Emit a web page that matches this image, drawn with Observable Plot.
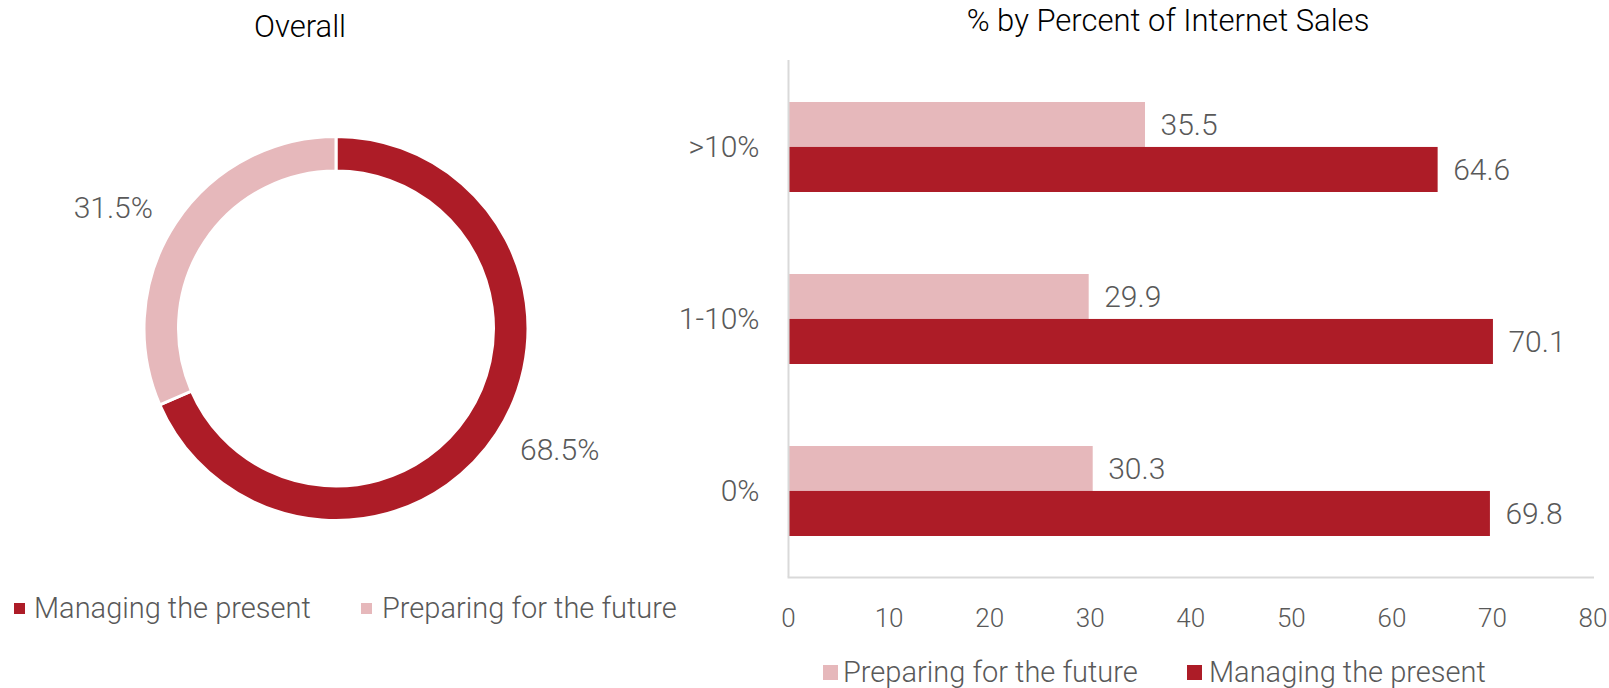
<!DOCTYPE html>
<html><head><meta charset="utf-8">
<script src="https://cdn.jsdelivr.net/npm/d3@7"></script>
<script src="https://cdn.jsdelivr.net/npm/@observablehq/plot@0.6"></script>
<style>
html,body{margin:0;padding:0;background:#fff;}
body{width:1609px;height:688px;position:relative;overflow:hidden;font-family:Roboto,"Liberation Sans",sans-serif;font-weight:300;}
.title{position:absolute;font-size:31px;line-height:31px;color:#000;white-space:nowrap;transform:translateX(-50%);}
.item{position:absolute;display:flex;align-items:center;font-size:29px;line-height:29px;color:#595959;white-space:nowrap;}
.sw{display:inline-block;}
.panel{position:absolute;}
</style></head><body>
<div class="title" style="left:300px;top:11px;">Overall</div>
<div class="title" style="left:1168px;top:5px;">% by Percent of Internet Sales</div>
<div id="left" class="panel" style="left:0;top:50px;"></div>
<div id="right" class="panel" style="left:620px;top:50px;"></div>
<script>
// ---- data ----
const seriesNames = ["Managing the present", "Preparing for the future"];
const seriesColors = ["#ad1c27", "#e6b8bb"];
const overallValues = [68.5, 31.5];
const categories = [">10%", "1-10%", "0%"];
const preparing = [35.5, 29.9, 30.3];
const managing = [64.6, 70.1, 69.8];
const xTicks = [0, 10, 20, 30, 40, 50, 60, 70, 80];

const colorScale = Plot.scale({color: {type: "ordinal", domain: seriesNames, range: seriesColors}});
const color = (k) => colorScale.apply(k);
const FONT = 'Roboto, "Liberation Sans", sans-serif';

// ---- donut ----
const pieData = d3.pie().sort(null).value(d => d.value)(seriesNames.map((s, i) => ({label: s, value: overallValues[i]})));
pieData.forEach(d => d.mid = (d.startAngle + d.endAngle) / 2);
const innerRatio = 157.5 / 191;
const labelRatio = 1.15;

function donut(index, scales) {
  const cx = scales.x(0), cy = scales.y(0), R = scales.x(1) - scales.x(0);
  const arc = d3.arc().innerRadius(R * innerRatio).outerRadius(R + 1);
  const g = d3.create("svg:g").attr("transform", `translate(${cx},${cy})`);
  g.selectAll("path").data(pieData).join("path")
    .attr("d", arc).attr("fill", d => color(d.data.label))
    .attr("stroke", "white").attr("stroke-width", 3);
  return g.node();
}

const leftPlot = Plot.plot({
  width: 680, height: 510,
  marginLeft: 145, marginRight: 153, marginTop: 87, marginBottom: 40,
  x: {domain: [-1, 1], axis: null},
  y: {domain: [-1, 1], axis: null},
  style: {fontFamily: FONT, fontWeight: 300, background: "transparent"},
  marks: [
    donut,
    Plot.text(pieData.filter(d => d.mid < Math.PI), {
      x: d => Math.sin(d.mid) * labelRatio, y: d => Math.cos(d.mid) * labelRatio,
      text: d => d.data.value.toFixed(1) + "%", textAnchor: "start", fontSize: 30, fill: "#595959"
    }),
    Plot.text(pieData.filter(d => d.mid >= Math.PI), {
      x: d => Math.sin(d.mid) * labelRatio, y: d => Math.cos(d.mid) * labelRatio,
      text: d => d.data.value.toFixed(1) + "%", textAnchor: "end", fontSize: 30, fill: "#595959"
    })
  ]
});
document.getElementById("left").append(leftPlot);

// ---- bars ----
const rows = categories.flatMap((c, i) => [
  {category: c, series: seriesNames[1], value: preparing[i]},
  {category: c, series: seriesNames[0], value: managing[i]}
]);
const prepRows = rows.filter(d => d.series === seriesNames[1]);
const manRows = rows.filter(d => d.series === seriesNames[0]);

const W = 989, H = 590, mT = 10, mB = 63, mL = 168, mR = 16.5;
const pIn = 0.478, pOut = 0.24;
const step = (H - mT - mB) / (categories.length - pIn + 2 * pOut);
const half = step * (1 - pIn) / 2;

const rightPlot = Plot.plot({
  width: W, height: H, marginTop: mT, marginBottom: mB, marginLeft: mL, marginRight: mR,
  style: {fontFamily: FONT, fontWeight: 300, fontSize: "26px", color: "#595959", background: "transparent"},
  x: {domain: [0, 80], ticks: xTicks, tickSize: 0, tickPadding: 31, label: null},
  y: {domain: categories, paddingInner: pIn, paddingOuter: pOut, axis: null},
  color: {domain: seriesNames, range: seriesColors},
  marks: [
    Plot.axisY({tickSize: 0, tickPadding: 29, label: null, fontSize: 30}),
    Plot.barX(prepRows, {x: "value", y: "category", fill: "series", insetBottom: half}),
    Plot.barX(manRows, {x: "value", y: "category", fill: "series", insetTop: half}),
    Plot.ruleX([0], {stroke: "#d9d9d9", strokeWidth: 2}),
    Plot.frame({anchor: "bottom", stroke: "#d9d9d9", strokeWidth: 2}),
    Plot.text(prepRows, {x: "value", y: "category", text: d => d.value.toFixed(1), dx: 15, dy: -half / 2, textAnchor: "start", fontSize: 30, fill: "#595959"}),
    Plot.text(manRows, {x: "value", y: "category", text: d => d.value.toFixed(1), dx: 15, dy: half / 2, textAnchor: "start", fontSize: 30, fill: "#595959"})
  ]
});
document.getElementById("right").append(rightPlot);

// ---- legends ----
function legendItem(name, x, cy, sw, gap) {
  const d = document.createElement("div");
  d.className = "item";
  d.style.left = x + "px";
  d.style.top = (cy - 14.5) + "px";
  const s = document.createElement("span");
  s.className = "sw";
  s.style.width = sw + "px"; s.style.height = sw + "px";
  s.style.background = color(name);
  s.style.marginRight = gap + "px";
  d.append(s, document.createTextNode(name));
  document.body.append(d);
}
legendItem(seriesNames[0], 14, 608, 11, 9);
legendItem(seriesNames[1], 361, 608, 11, 10);
legendItem(seriesNames[1], 823, 672, 15, 5);
legendItem(seriesNames[0], 1187, 672, 15, 7);
</script>
</body></html>
